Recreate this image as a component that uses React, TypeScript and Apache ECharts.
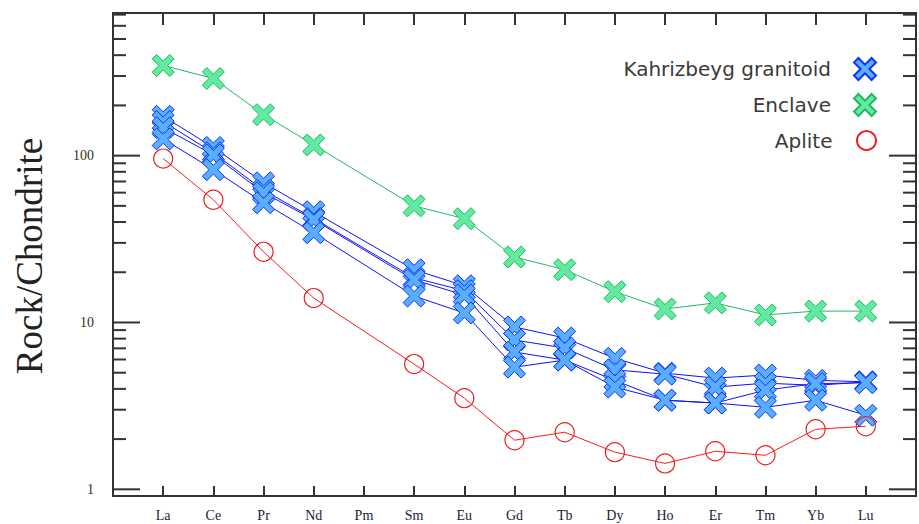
import { useEffect, useRef } from 'react';
import * as echarts from 'echarts';

const elements = ['La', 'Ce', 'Pr', 'Nd', 'Pm', 'Sm', 'Eu', 'Gd', 'Tb', 'Dy', 'Ho', 'Er', 'Tm', 'Yb', 'Lu'];

const granitoidA = [172, 112, 68.8, 46.1, null, 20.7, 16.6, 9.4, 8.07, 6.1, 4.97, 4.64, 4.84, 4.5, 4.41];
const granitoidB = [160, 104, 62, 42, null, 18.5, 15.5, 7.85, 7.03, 5.2, 4.9, 4.1, 4.33, 4.2, 4.4];
const granitoidC = [147, 101, 59.9, 41.3, null, 18, 14.6, 6.65, 5.95, 4.5, 3.42, 3.29, 3.93, 4.3, 4.35];
const granitoidD = [126, 82.4, 52.2, 34.5, null, 14.4, 11.4, 5.4, 5.95, 4.1, 3.42, 3.29, 3.1, 3.42, 2.78];
const enclave = [347, 290, 176, 116, null, 50, 41.9, 24.7, 20.7, 15.3, 12.05, 13.1, 11.1, 11.7, 11.7];
const aplite = [96, 54.4, 26.5, 14.0, null, 5.63, 3.52, 1.97, 2.2, 1.67, 1.43, 1.69, 1.6, 2.29, 2.39];

const yLabelTicks = [1, 10, 100];
const yMinorTicks = [2, 3, 4, 5, 6, 7, 8, 9, 20, 30, 40, 50, 60, 70, 80, 90, 200, 300, 400, 500, 600, 700];

const X_PATH = 'path://M0,2L2,0L5,3L8,0L10,2L7,5L10,8L8,10L5,7L2,10L0,8L3,5Z';

const toPoints = (vals: (number | null)[]) =>
  vals.flatMap((v, i) => (v == null ? [] : [[i + 1, v]]));

export default function App() {
  const ref = useRef<HTMLDivElement>(null);
  useEffect(() => {
    if (!ref.current) return;
    const chart = echarts.init(ref.current, undefined, { renderer: 'svg' });

    const blueItem = { color: '#5aaeff', borderColor: '#1030ff', borderWidth: 1 };
    const greenItem = { color: '#62eaa0', borderColor: '#1fb864', borderWidth: 1 };
    const redItem = { color: 'rgba(255,255,255,0)', borderColor: '#e82020', borderWidth: 1.2 };

    const granitoids = [granitoidA, granitoidB, granitoidC, granitoidD].map((vals) => ({
      name: 'Kahrizbeyg granitoid',
      type: 'line',
      data: toPoints(vals),
      symbol: X_PATH,
      symbolSize: 22,
      lineStyle: { color: '#1010ff', width: 1 },
      itemStyle: blueItem,
      z: 3,
    }));

    const tickData = [
      ...yMinorTicks.map((v) => [1, v, 13]),
      ...yLabelTicks.map((v) => [1, v, 27]),
    ];

    const legendBase = {
      orient: 'vertical',
      right: 37,
      align: 'right',
      itemWidth: 24,
      itemHeight: 22,
      textStyle: { fontFamily: 'DejaVu Sans', fontSize: 20, color: '#3a3a3a', padding: [0, 17, 0, 0] },
    };

    chart.setOption({
      animation: false,
      backgroundColor: '#ffffff',
      grid: {
        left: 113,
        top: 13,
        width: 815,
        height: 483,
        show: true,
        borderColor: '#333333',
        borderWidth: 2,
        backgroundColor: 'transparent',
      },
      legend: [
        { ...legendBase, top: 52, data: [{ name: 'Kahrizbeyg granitoid', icon: X_PATH }] },
        { ...legendBase, top: 88, data: [{ name: 'Enclave', icon: X_PATH }] },
        { ...legendBase, top: 125, itemHeight: 19, data: [{ name: 'Aplite', icon: 'circle' }] },
      ],
      xAxis: [
        {
          type: 'value',
          min: 0,
          max: 16,
          interval: 1,
          position: 'bottom',
          axisLine: { show: false },
          splitLine: { show: false },
          axisTick: { show: true, inside: true, length: 10, lineStyle: { color: '#333', width: 2 } },
          axisLabel: {
            margin: 12,
            fontFamily: 'Liberation Serif',
            fontSize: 14,
            color: '#1c1c40',
            formatter: (v: number) => elements[v - 1] ?? '',
          },
        },
        {
          type: 'value',
          min: 0,
          max: 16,
          interval: 1,
          position: 'top',
          axisLine: { show: false },
          splitLine: { show: false },
          axisTick: { show: true, inside: true, length: 12, lineStyle: { color: '#333', width: 2 } },
          axisLabel: { show: false },
        },
      ],
      yAxis: {
        type: 'log',
        logBase: 10,
        min: 0.912,
        max: 716,
        axisLine: { show: false },
        splitLine: { show: false },
        axisTick: { show: false },
        axisLabel: {
          margin: 19,
          fontFamily: 'Liberation Serif',
          fontSize: 14,
          color: '#3a3020',
          formatter: (v: number) =>
            yLabelTicks.some((t) => Math.abs(v - t) < t * 1e-6) ? String(Math.round(v)) : '',
        },
      },
      graphic: [
        {
          type: 'text',
          x: 29,
          y: 256,
          rotation: Math.PI / 2,
          style: {
            text: 'Rock/Chondrite',
            fontFamily: 'Liberation Serif',
            fontSize: 37,
            fill: '#222222',
            align: 'center',
            verticalAlign: 'middle',
          },
        },
      ],
      series: [
        {
          name: 'ticks',
          type: 'custom',
          silent: true,
          data: tickData,
          z: 1,
          renderItem: (params: any, api: any) => {
            const cs = params.coordSys;
            const y = api.coord([1, api.value(1)])[1];
            const len = api.value(2);
            const style = { stroke: '#333333', lineWidth: 2 };
            return {
              type: 'group',
              children: [
                { type: 'line', shape: { x1: cs.x, y1: y, x2: cs.x + len, y2: y }, style },
                { type: 'line', shape: { x1: cs.x + cs.width - len, y1: y, x2: cs.x + cs.width, y2: y }, style },
              ],
            };
          },
        },
        ...granitoids,
        {
          name: 'Enclave',
          type: 'line',
          data: toPoints(enclave),
          symbol: X_PATH,
          symbolSize: 22,
          lineStyle: { color: '#1fb864', width: 1 },
          itemStyle: greenItem,
          z: 3,
        },
        {
          name: 'Aplite',
          type: 'line',
          data: toPoints(aplite),
          symbol: 'circle',
          symbolSize: 19,
          lineStyle: { color: '#ff1a1a', width: 1 },
          itemStyle: redItem,
          z: 3,
        },
      ],
    });
    return () => chart.dispose();
  }, []);

  return (
    <div
      ref={ref}
      style={{ position: 'fixed', left: 0, top: 0, width: 919, height: 524, background: '#fff' }}
    />
  );
}
